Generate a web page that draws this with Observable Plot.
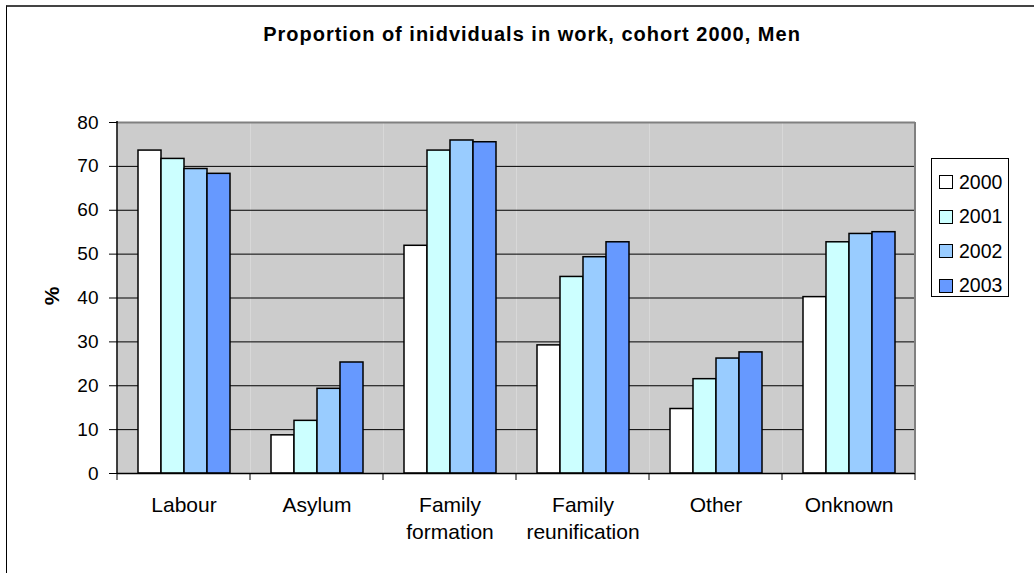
<!DOCTYPE html>
<html>
<head>
<meta charset="utf-8">
<script src="https://cdn.jsdelivr.net/npm/d3@7"></script>
<script src="https://cdn.jsdelivr.net/npm/@observablehq/plot@0.6"></script>
<style>
  html, body { margin: 0; padding: 0; background: #fff; }
  #chart {
    position: relative;
    width: 1034px;
    height: 573px;
    overflow: hidden;
    font-family: "Liberation Sans", Arial, sans-serif;
    color: #000;
  }
  #chart svg { position: absolute; left: 0; top: 0; }
  .border {
    position: absolute;
    left: 6px; top: 5px;
    width: 1200px; height: 700px;
    border-top: 2.5px solid #444;
    border-left: 1.5px solid #000;
  }
  .title {
    position: absolute;
    left: 532px; top: 23px;
    transform: translateX(-50%);
    font-size: 20px;
    font-weight: bold;
    letter-spacing: 1px;
    white-space: nowrap;
  }
  .ylabel {
    position: absolute;
    left: 52px; top: 296px;
    transform: translate(-50%, -50%) rotate(-90deg);
    font-size: 21px;
    font-weight: bold;
  }
  .legend {
    position: absolute;
    left: 931px; top: 158px;
    width: 78px; height: 139px;
    border: 1px solid #000;
    background: #fff;
    box-sizing: border-box;
    padding-top: 6px;
  }
  .legend .item {
    display: flex;
    align-items: center;
    height: 34.5px;
    padding-left: 7px;
    font-size: 19.5px;
  }
  .legend .sw {
    width: 12px; height: 12px;
    border: 1px solid #000;
    margin-right: 6px;
    flex: none;
  }
</style>
</head>
<body>
<div id="chart">
  <div class="border"></div>
</div>
<script>
// Share of men in work, cohort 2000, by reason for immigration and year
const categories = ["Labour", "Asylum", "Family formation", "Family reunification", "Other", "Onknown"];
const years = ["2000", "2001", "2002", "2003"];
const v2000 = [73.6, 8.7, 51.9, 29.2, 14.7, 40.2];
const v2001 = [71.7, 12.0, 73.6, 44.8, 21.5, 52.7];
const v2002 = [69.4, 19.3, 75.9, 49.3, 26.2, 54.6];
const v2003 = [68.3, 25.3, 75.5, 52.7, 27.6, 55.0];
const yTicks = [0, 10, 20, 30, 40, 50, 60, 70, 80];
const colors = ["#ffffff", "#ccffff", "#99ccff", "#6699ff"];

const series = [v2000, v2001, v2002, v2003];
const data = [];
categories.forEach((c, i) => {
  years.forEach((yr, j) => data.push({category: c, year: yr, value: series[j][i]}));
});

const chart = Plot.plot({
  width: 1034,
  height: 573,
  marginLeft: 116,
  marginRight: 118,
  marginTop: 122,
  marginBottom: 100,
  style: {fontFamily: "'Liberation Sans', Arial, sans-serif", background: "transparent", overflow: "visible"},
  fx: {domain: categories, padding: 0, label: null},
  x: {domain: years, paddingInner: 0, paddingOuter: 0.78, axis: null},
  y: {domain: [0, 80], label: null},
  color: {domain: years, range: colors},
  marks: [
    Plot.frame({fill: "#cccccc", stroke: null}),
    Plot.ruleY(yTicks.slice(1, -1), {stroke: "#000", strokeWidth: 1}),
    Plot.ruleY([80], {stroke: "#808080", strokeWidth: 2}),
    Plot.barY(data, {fx: "category", x: "year", y: "value", fill: "year", stroke: "#000", strokeWidth: 1.5}),
    Plot.ruleY([0], {stroke: "#000", strokeWidth: 1.5}),
    Plot.axisY({ticks: yTicks, tickSize: 8, tickPadding: 11, fontSize: 19, stroke: "#000", label: null}),
    Plot.axisFx({
      anchor: "bottom",
      tickSize: 0,
      tickPadding: 19,
      fontSize: 21,
      lineHeight: 1.3,
      label: null,
      tickFormat: d => d.replace(" ", "\n")
    })
  ]
});

// plot-area outline and category boundary ticks
const fx = chart.scale("fx");
const y = chart.scale("y");
const svg = d3.select(chart);
const y0 = y.apply(0), y80 = y.apply(80);
const xLeft = fx.apply(categories[0]);
const xRight = fx.apply(categories[categories.length - 1]) + fx.bandwidth;
const g = svg.append("g");
g.append("line").attr("x1", xRight).attr("x2", xRight).attr("y1", y80).attr("y2", y0)
  .attr("stroke", "#808080").attr("stroke-width", 2);
g.append("line").attr("x1", xLeft).attr("x2", xLeft).attr("y1", y80 - 1).attr("y2", y0)
  .attr("stroke", "#000").attr("stroke-width", 1.5);
const bounds = categories.map(c => fx.apply(c)).concat([xRight]);
g.selectAll("line.bt").data(bounds).join("line")
  .attr("class", "bt")
  .attr("x1", d => d).attr("x2", d => d)
  .attr("y1", y0).attr("y2", y0 + 7)
  .attr("stroke", "#000").attr("stroke-width", 1);

const root = document.getElementById("chart");
root.appendChild(chart);

const title = document.createElement("div");
title.className = "title";
title.textContent = "Proportion of inidviduals in work, cohort 2000, Men";
root.appendChild(title);

const ylab = document.createElement("div");
ylab.className = "ylabel";
ylab.textContent = "%";
root.appendChild(ylab);

const legend = document.createElement("div");
legend.className = "legend";
years.forEach((yr, j) => {
  const item = document.createElement("div");
  item.className = "item";
  const sw = document.createElement("span");
  sw.className = "sw";
  sw.style.background = colors[j];
  const t = document.createElement("span");
  t.textContent = yr;
  item.appendChild(sw);
  item.appendChild(t);
  legend.appendChild(item);
});
root.appendChild(legend);
</script>
</body>
</html>
